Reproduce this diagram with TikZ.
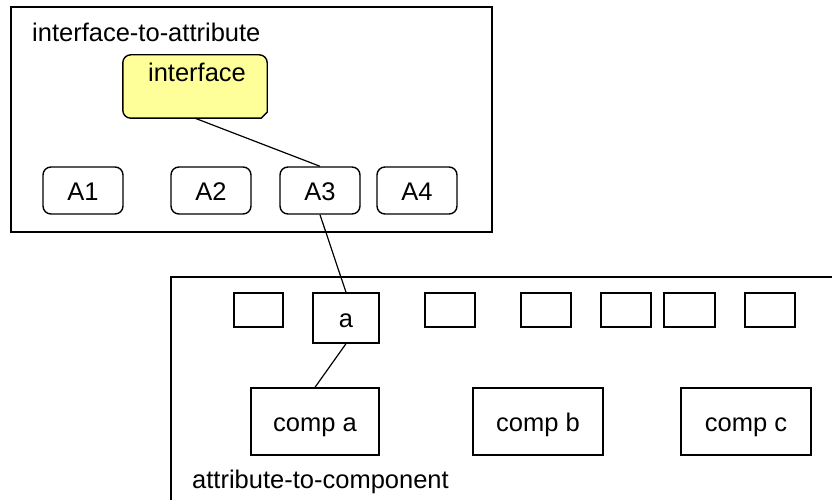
\documentclass[tikz,border=0pt]{standalone}
\usepackage{fontspec}
\setmainfont{Liberation Sans}
\usetikzlibrary{backgrounds}
\definecolor{noteyellow}{RGB}{255,255,153}
\tikzset{
  every node/.style={font=\fontsize{25.5}{28}\selectfont, inner sep=0pt},
  boxtext/.style={text height=19pt, text depth=0pt},
  frame/.style={draw=black, line width=1.6pt},
  attrbox/.style={boxtext, draw=black, line width=1.4pt, rounded corners=8pt,
                  minimum width=80pt, minimum height=47pt},
  slotbox/.style={boxtext, draw=black, line width=1.4pt, minimum height=34pt},
  compbox/.style={boxtext, draw=black, line width=1.4pt, minimum height=67pt},
  link/.style={draw=black, line width=1.2pt},
  ifacefill/.style={fill=noteyellow, draw=black, line width=1.4pt},
}
\begin{document}
\begin{tikzpicture}[x=1pt, y=-1pt]
\useasboundingbox (0,0) rectangle (832,500);
\clip (0,0) rectangle (832,500);

% interface-to-attribute group
\draw[frame] (11,7) rectangle (492,232);
\node[anchor=base west] (t1) at (32,42) {interface-to-attribute};

\node[minimum width=144pt, minimum height=63pt,
      label={[anchor=base, yshift=-27pt, xshift=2pt]north:interface}] (iface) at (195,86.5) {};
\begin{scope}[on background layer]
  \fill[white] (0,0) rectangle (832,500);
  % note shape: rounded corners, bottom-right corner cut off
  \path[ifacefill]
    (iface.west)
      [rounded corners=8pt] -- (iface.north west) -- (iface.north east)
      [sharp corners] -- ([yshift=6pt]iface.south east)
      -- ([xshift=-6pt]iface.south east)
      [rounded corners=8pt] -- (iface.south west)
      [sharp corners] -- cycle;
\end{scope}

\node[attrbox] (A1) at (83,190.5) {A1};
\node[attrbox] (A2) at (211,190.5) {A2};
\node[attrbox] (A3) at (320,190.5) {A3};
\node[attrbox] (A4) at (417,190.5) {A4};

% attribute-to-component group
\draw[frame] (171,277) rectangle (860,530);
\node[anchor=base west] (t2) at (192,488) {attribute-to-component};

\node[slotbox, minimum width=49pt] (s1) at (258.5,310) {};
\node[slotbox, minimum width=66pt, minimum height=50pt] (a) at (346,318) {a};
\node[slotbox, minimum width=50pt] (s2) at (450,310) {};
\node[slotbox, minimum width=50pt] (s3) at (546,310) {};
\node[slotbox, minimum width=50pt] (s4) at (626,310) {};
\node[slotbox, minimum width=51pt] (s5) at (689.5,310) {};
\node[slotbox, minimum width=50pt] (s6) at (770,310) {};

\node[compbox, minimum width=128pt] (ca) at (315,421.5) {comp a};
\node[compbox, minimum width=130pt] (cb) at (538,421.5) {comp b};
\node[compbox, minimum width=130pt] (cc) at (746,421.5) {comp c};

% connectors
\draw[link] (iface.south) -- (A3.north);
\draw[link] (A3.south) -- (a.north);
\draw[link] (a.south) -- (ca.north);
\end{tikzpicture}
\end{document}
